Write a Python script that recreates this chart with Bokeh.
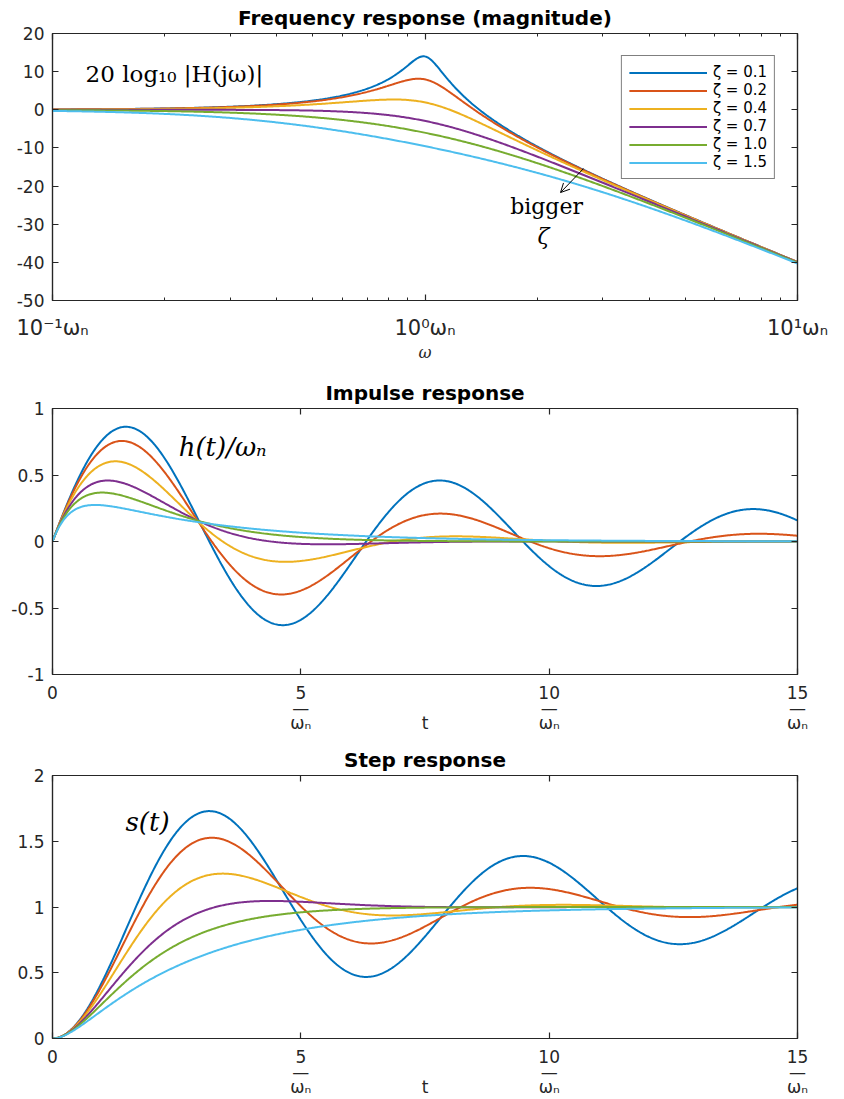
import json
import numpy as np
from bokeh.plotting import figure
from bokeh.layouts import column
from bokeh.models import (LinearAxis, LogAxis, FixedTicker, Label, Arrow, OpenHead,
                          CustomJSTickFormatter, Legend, LegendItem, Range1d)
from bokeh.embed import file_html
from bokeh.resources import INLINE

# ---------------- data ----------------
zetas = [0.1, 0.2, 0.4, 0.7, 1.0, 1.5]
zeta_labels = ["ζ = 0.1", "ζ = 0.2", "ζ = 0.4", "ζ = 0.7", "ζ = 1.0", "ζ = 1.5"]
colors = ["#0072BD", "#D95319", "#EDB120", "#7E2F8E", "#77AC30", "#4DBEEE"]

freq_range = [0.1, 10.0]
freq_ticks = [0.1, 1.0, 10.0]
freq_minor_ticks = [0.2, 0.3, 0.4, 0.5, 0.6, 0.7, 0.8, 0.9, 2, 3, 4, 5, 6, 7, 8, 9]
freq_tick_labels = ["10⁻¹ωₙ", "10⁰ωₙ", "10¹ωₙ"]
mag_range = [-50, 20]
mag_ticks = [-50, -40, -30, -20, -10, 0, 10, 20]

time_range = [0, 15]
time_ticks = [0, 5, 10, 15]
time_tick_numerators = ["0", "5", "10", "15"]
time_tick_denominators = ["", "ωₙ", "ωₙ", "ωₙ"]
time_axis_title = "t"
impulse_range = [-1, 1]
impulse_ticks = [-1, -0.5, 0, 0.5, 1]
step_range = [0, 2]
step_ticks = [0, 0.5, 1, 1.5, 2]

# sampling grids
w = np.logspace(-1, 1, 600)
t = np.linspace(0, 15, 751)


def magnitude_db(w, z):
    return -10 * np.log10((1 - w ** 2) ** 2 + (2 * z * w) ** 2)


def impulse(t, z):
    if z < 1:
        wd = np.sqrt(1 - z * z)
        return np.exp(-z * t) * np.sin(wd * t) / wd
    if z == 1:
        return t * np.exp(-t)
    r = np.sqrt(z * z - 1)
    return (np.exp(-(z - r) * t) - np.exp(-(z + r) * t)) / (2 * r)


def step(t, z):
    if z < 1:
        wd = np.sqrt(1 - z * z)
        return 1 - np.exp(-z * t) * (np.cos(wd * t) + z / wd * np.sin(wd * t))
    if z == 1:
        return 1 - np.exp(-t) * (1 + t)
    r = np.sqrt(z * z - 1)
    p1, p2 = z - r, z + r
    return 1 + (p1 * np.exp(-p2 * t) - p2 * np.exp(-p1 * t)) / (p2 - p1)


# ---------------- helpers ----------------
INK = "#262626"
SANS = "DejaVu Sans"
SERIF = "DejaVu Serif"
FIG_W = 844
BORDER_L = 52
BORDER_R = 47


def fmt(ticks, labels):
    code = ("const t=%s; const l=%s; for (let i=0;i<t.length;i++){ "
            "if (Math.abs(tick-t[i]) <= 1e-6*Math.max(1,Math.abs(t[i]))) return l[i]; } return '';"
            % (json.dumps(ticks), json.dumps(labels, ensure_ascii=False)))
    return CustomJSTickFormatter(code=code)


def num_labels(ticks):
    return ["%g" % v for v in ticks]


def fraction_labels(nums, dens):
    out = []
    for n, d in zip(nums, dens):
        out.append(n if not d else n + "\n—\n" + d)
    return out


def style_axis(ax, size="17px", show=True):
    ax.axis_line_color = INK
    ax.axis_line_width = 1.2
    ax.major_tick_in = 6
    ax.major_tick_out = 0
    ax.major_tick_line_color = INK
    ax.major_tick_line_width = 1.2
    ax.minor_tick_in = 3
    ax.minor_tick_out = 0
    ax.minor_tick_line_color = INK
    ax.minor_tick_line_width = 1
    ax.major_label_text_font = SANS
    ax.major_label_text_color = INK
    if show:
        ax.major_label_text_font_size = size
        ax.major_label_standoff = 8
    else:
        ax.major_label_text_font_size = "0px"
        ax.major_label_standoff = 0
        ax.formatter = CustomJSTickFormatter(code="return '';")


def make_fig(height, top, bottom, title, xr, yr, log=False):
    p = figure(width=FIG_W, height=height,
               x_range=Range1d(*xr), y_range=Range1d(*yr),
               x_axis_type="log" if log else "linear",
               output_backend="svg", toolbar_location=None,
               min_border_left=BORDER_L, min_border_right=BORDER_R,
               min_border_top=top, min_border_bottom=bottom)
    p.title.text = title
    p.title.align = "center"
    p.title.text_font = SANS
    p.title.text_font_style = "bold"
    p.title.text_font_size = "20px"
    p.title.text_color = "black"
    p.title.standoff = 7
    p.xgrid.visible = False
    p.ygrid.visible = False
    p.outline_line_color = INK
    p.outline_line_width = 1.2
    p.background_fill_color = "white"
    p.border_fill_color = "white"
    return p


def add_box_axes(p, xticker, yticker, log=False):
    top = LogAxis(ticker=xticker) if log else LinearAxis(ticker=xticker)
    right = LinearAxis(ticker=yticker)
    style_axis(top, show=False)
    style_axis(right, show=False)
    p.add_layout(top, "above")
    p.add_layout(right, "right")


# ---------------- panel 1: frequency response ----------------
p1 = make_fig(375, 33, 75, "Frequency response (magnitude)", freq_range, mag_range, log=True)
x1_ticker = FixedTicker(ticks=freq_ticks, minor_ticks=freq_minor_ticks)
y1_ticker = FixedTicker(ticks=mag_ticks)
p1.xaxis.ticker = x1_ticker
p1.yaxis.ticker = y1_ticker
for ax in p1.xaxis:
    style_axis(ax, size="21px")
    ax.formatter = fmt(freq_ticks, freq_tick_labels)
    ax.major_label_standoff = 15
    ax.axis_label = "ω"
    ax.axis_label_text_font = SERIF
    ax.axis_label_text_font_style = "italic"
    ax.axis_label_text_font_size = "16px"
    ax.axis_label_text_color = INK
    ax.axis_label_standoff = 0
for ax in p1.yaxis:
    style_axis(ax)
    ax.formatter = fmt(mag_ticks, num_labels(mag_ticks))
add_box_axes(p1, x1_ticker, y1_ticker, log=True)

r1 = []
for z, c in zip(zetas, colors):
    r1.append(p1.line(w, magnitude_db(w, z), line_color=c, line_width=2))

legend = Legend(items=[LegendItem(label=lab, renderers=[r]) for lab, r in zip(zeta_labels, r1)],
                location="top_right", margin=22, padding=7, spacing=0,
                glyph_width=78, glyph_height=15, label_height=15, label_standoff=6,
                label_text_font=SANS, label_text_font_size="15px", label_text_color="black",
                border_line_color="black", border_line_width=1.2,
                background_fill_color="white", background_fill_alpha=1)
p1.add_layout(legend)

p1.add_layout(Label(x=0.1227, y=9.5, text="20 log₁₀ |H(jω)|", text_font=SERIF,
                    text_font_size="23px", text_baseline="middle", text_align="left",
                    text_color="black"))
p1.add_layout(Label(x=2.12, y=-25.3, text="bigger", text_font=SERIF, text_font_size="22px",
                    text_baseline="middle", text_align="center", text_color="black"))
p1.add_layout(Label(x=2.08, y=-33.2, text="ζ", text_font=SERIF, text_font_style="italic",
                    text_font_size="22px", text_baseline="middle", text_align="center",
                    text_color="black"))
p1.add_layout(Arrow(end=OpenHead(size=9, line_width=1, line_color="black"),
                    x_start=2.665, y_start=-15.4, x_end=2.311, y_end=-21.7,
                    line_color="black", line_width=1))


# ---------------- time panels ----------------
def time_panel(height, top, bottom, title, yr, yticks, func, label_text, lx, ly):
    p = make_fig(height, top, bottom, title, time_range, yr)
    mid = (time_range[0] + time_range[1]) / 2.0
    # labelled ticks (fractions + the axis name in the middle); tick marks come from minor ticks
    xt_bottom = FixedTicker(ticks=time_ticks + [mid], minor_ticks=time_ticks)
    xt_top = FixedTicker(ticks=time_ticks)
    yt = FixedTicker(ticks=yticks)
    p.xaxis.ticker = xt_bottom
    p.yaxis.ticker = yt
    for ax in p.xaxis:
        style_axis(ax)
        ax.major_tick_in = 0
        ax.minor_tick_in = 6
        ax.minor_tick_line_width = 1.2
        ax.formatter = fmt(time_ticks + [mid],
                           fraction_labels(time_tick_numerators, time_tick_denominators)
                           + ["\n\n" + time_axis_title])
        ax.major_label_text_line_height = 0.76
    for ax in p.yaxis:
        style_axis(ax)
        ax.formatter = fmt(yticks, num_labels(yticks))
    add_box_axes(p, xt_top, yt)
    for z, c in zip(zetas, colors):
        p.line(t, func(t, z), line_color=c, line_width=2)
    p.add_layout(Label(x=lx, y=ly, text=label_text, text_font=SERIF, text_font_style="italic",
                       text_font_size="26px", text_baseline="middle", text_align="left",
                       text_color="black"))
    return p


p2 = time_panel(365, 32, 66, "Impulse response", impulse_range, impulse_ticks, impulse,
                "h(t)/ωₙ", 2.54, 0.708)
p3 = time_panel(359, 35, 56, "Step response", step_range, step_ticks, step,
                "s(t)", 1.47, 1.646)

layout = column(p1, p2, p3)
open("out.html", "w").write(file_html(layout, INLINE))
